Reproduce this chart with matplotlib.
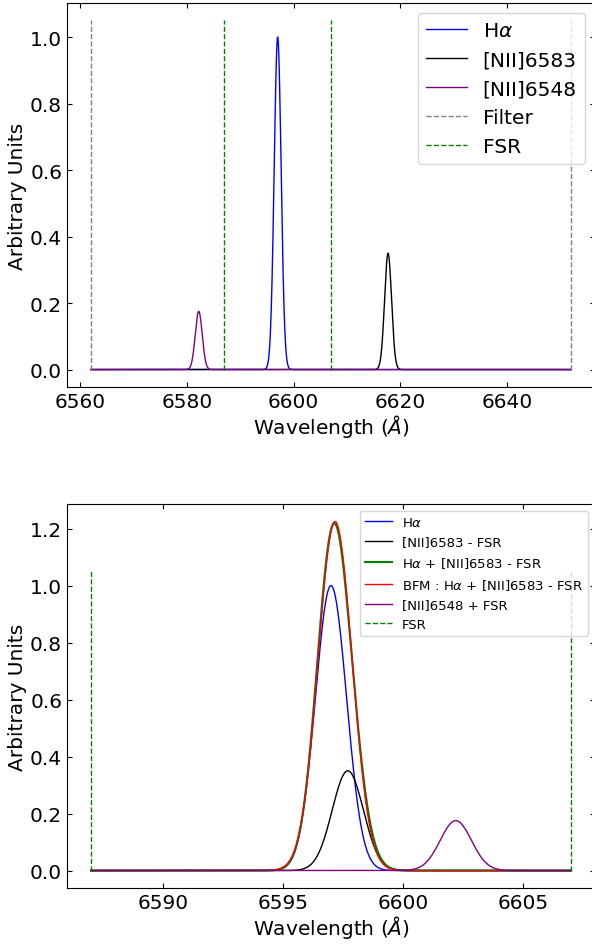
import numpy as np
import matplotlib.pyplot as plt

# emission lines: centre (Angstrom), peak height
ha_centre, ha_amp = 6597.0, 1.0
n6583_centre, n6583_amp = 6617.7, 0.35
n6548_centre, n6548_amp = 6582.2, 0.175
line_sigma = 0.65

# best fit model of the blended line
bfm_centre, bfm_amp, bfm_sigma = 6597.17, 1.225, 0.71

filter_edges = [6562, 6652]
fsr_edges = [6587, 6607]
fsr = 20.0
vline_top = 1.05


def gauss(x, c, a, s):
    return a * np.exp(-(x - c) ** 2 / (2 * s ** 2))


fig = plt.figure(figsize=(5.92, 9.45), dpi=100)
ax1 = fig.add_axes([67 / 592, 1 - 388 / 945, 528 / 592, 384 / 945])
ax2 = fig.add_axes([67 / 592, 1 - 889 / 945, 528 / 592, 384 / 945])

# top panel : full filter range
x = np.linspace(filter_edges[0], filter_edges[1], 6000)
ax1.plot(x, gauss(x, ha_centre, ha_amp, line_sigma), color='blue', lw=1, label=r'H$\alpha$')
ax1.plot(x, gauss(x, n6583_centre, n6583_amp, line_sigma), color='black', lw=1, label='[NII]6583')
ax1.plot(x, gauss(x, n6548_centre, n6548_amp, line_sigma), color='purple', lw=1, label='[NII]6548')
ax1.vlines(filter_edges, 0, vline_top, colors='grey', linestyles='--', lw=1, label='Filter')
ax1.vlines(fsr_edges, 0, vline_top, colors='green', linestyles='--', lw=1, label='FSR')
ax1.set_xticks([6560, 6580, 6600, 6620, 6640])
ax1.legend(loc='upper right', fontsize=14.5)

# bottom panel : one FSR
x2 = np.linspace(fsr_edges[0], fsr_edges[1], 4000)
ha = gauss(x2, ha_centre, ha_amp, line_sigma)
n83 = gauss(x2, n6583_centre - fsr, n6583_amp, line_sigma)
n48 = gauss(x2, n6548_centre + fsr, n6548_amp, line_sigma)
ax2.plot(x2, ha, color='blue', lw=1, label=r'H$\alpha$')
ax2.plot(x2, n83, color='black', lw=1, label='[NII]6583 - FSR')
ax2.plot(x2, ha + n83, color='green', lw=1.5, label=r'H$\alpha$ + [NII]6583 - FSR')
ax2.plot(x2, gauss(x2, bfm_centre, bfm_amp, bfm_sigma), color='red', lw=1,
         label=r'BFM : H$\alpha$ + [NII]6583 - FSR')
ax2.plot(x2, n48, color='purple', lw=1, label='[NII]6548 + FSR')
ax2.vlines(fsr_edges, 0, vline_top, colors='green', linestyles='--', lw=1, label='FSR')
ax2.set_xticks([6590, 6595, 6600, 6605])
ax2.legend(loc='upper right', fontsize=9.5)

for ax in (ax1, ax2):
    ax.set_xlabel(r'Wavelength ($\AA$)', fontsize=14.5, labelpad=1)
    ax.set_ylabel('Arbitrary Units', fontsize=14.5, labelpad=2)
    ax.tick_params(direction='in', top=True, right=True, labelsize=14.5)

fig.savefig('out.png', dpi=100)
